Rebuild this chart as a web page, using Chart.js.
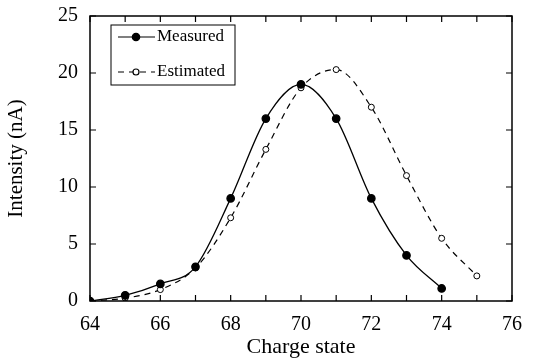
<!DOCTYPE html>
<html>
<head>
<meta charset="utf-8">
<script src="https://cdn.jsdelivr.net/npm/chart.js@4"></script>
<style>
  html, body { margin: 0; padding: 0; background: #fff; }
  #wrap { width: 537px; height: 364px; }
</style>
</head>
<body>
<div id="wrap"><canvas id="chart"></canvas></div>
<script>
// data
const chargeMeasured = [64, 65, 66, 67, 68, 69, 70, 71, 72, 73, 74];
const measured = [0, 0.5, 1.5, 3.0, 9.0, 16.0, 19.0, 16.0, 9.0, 4.0, 1.1];
const chargeEstimated = [64, 65, 66, 67, 68, 69, 70, 71, 72, 73, 74, 75];
const estimated = [0, 0.25, 1.0, 2.9, 7.3, 13.3, 18.7, 20.3, 17.0, 11.0, 5.5, 2.2];
const xTicks = [64, 66, 68, 70, 72, 74, 76];
const yTicks = [0, 5, 10, 15, 20, 25];

const FONT = "'Liberation Serif', 'DejaVu Serif', serif";

const toXY = (xs, ys) => xs.map((x, i) => ({ x: x, y: ys[i] }));

// frame + inward ticks + boxed legend
const framePlugin = {
  id: 'frame',
  afterDraw(chart) {
    const ctx = chart.ctx;
    const a = chart.chartArea;
    const xs = chart.scales.x, ys = chart.scales.y;
    ctx.save();
    ctx.strokeStyle = '#000';
    ctx.lineWidth = 1.5;
    ctx.strokeRect(a.left, a.top, a.right - a.left, a.bottom - a.top);
    ctx.lineWidth = 1.2;
    ctx.beginPath();
    for (let v = 64; v <= 76; v++) {
      const px = xs.getPixelForValue(v);
      ctx.moveTo(px, a.bottom); ctx.lineTo(px, a.bottom - 6);
      ctx.moveTo(px, a.top); ctx.lineTo(px, a.top + 6);
    }
    yTicks.forEach(v => {
      const py = ys.getPixelForValue(v);
      ctx.moveTo(a.left, py); ctx.lineTo(a.left + 6, py);
      ctx.moveTo(a.right, py); ctx.lineTo(a.right - 6, py);
    });
    ctx.stroke();

    // legend
    const lx = 111, ly = 25, lw = 124, lh = 60;
    ctx.lineWidth = 1;
    ctx.strokeRect(lx, ly, lw, lh);
    ctx.font = '17px ' + FONT;
    ctx.fillStyle = '#000';
    ctx.textBaseline = 'middle';
    chart.data.datasets.forEach((ds, i) => {
      const y = ly + 12 + i * 35;
      ctx.beginPath();
      ctx.setLineDash(ds.borderDash || []);
      ctx.lineWidth = 1.2;
      ctx.moveTo(lx + 7, y); ctx.lineTo(lx + 44, y);
      ctx.stroke();
      ctx.setLineDash([]);
      ctx.beginPath();
      ctx.arc(lx + 25, y, ds.pointRadius, 0, Math.PI * 2);
      ctx.fillStyle = ds.pointBackgroundColor;
      ctx.fill();
      ctx.stroke();
      ctx.fillStyle = '#000';
      ctx.fillText(ds.label, lx + 46, y);
    });
    ctx.restore();
  }
};

new Chart(document.getElementById('chart'), {
  type: 'line',
  data: {
    datasets: [
      {
        label: 'Measured',
        data: toXY(chargeMeasured, measured),
        borderColor: '#000',
        borderWidth: 1.3,
        pointRadius: 3.7,
        pointBackgroundColor: '#000',
        pointBorderColor: '#000',
        tension: 0.4,
        cubicInterpolationMode: 'monotone'
      },
      {
        label: 'Estimated',
        data: toXY(chargeEstimated, estimated),
        borderColor: '#000',
        borderWidth: 1.2,
        borderDash: [6, 5],
        pointRadius: 3,
        pointBackgroundColor: '#fff',
        pointBorderColor: '#000',
        pointBorderWidth: 1,
        tension: 0.4,
        cubicInterpolationMode: 'monotone'
      }
    ]
  },
  options: {
    responsive: true,
    maintainAspectRatio: false,
    animation: false,
    layout: { padding: { left: 0, right: 25, top: 13, bottom: 0 } },
    plugins: { legend: { display: false }, tooltip: { enabled: false } },
    scales: {
      x: {
        type: 'linear',
        min: 64, max: 76,
        afterBuildTicks: s => { s.ticks = xTicks.map(v => ({ value: v })); },
        afterFit: s => { s.height = 63; },
        grid: { display: false },
        border: { display: false },
        ticks: { color: '#000', font: { family: FONT, size: 20 }, padding: 4, maxRotation: 0 },
        title: { display: true, text: 'Charge state', color: '#000', font: { family: FONT, size: 22 }, padding: { top: 0 } }
      },
      y: {
        min: 0, max: 25,
        afterBuildTicks: s => { s.ticks = yTicks.map(v => ({ value: v })); },
        afterFit: s => { s.width = 90; },
        grid: { display: false },
        border: { display: false },
        ticks: { color: '#000', font: { family: FONT, size: 20 }, padding: 4 },
        title: { display: true, text: 'Intensity (nA)', color: '#000', font: { family: FONT, size: 21 }, padding: { bottom: 2 } }
      }
    }
  },
  plugins: [framePlugin]
});
</script>
</body>
</html>
